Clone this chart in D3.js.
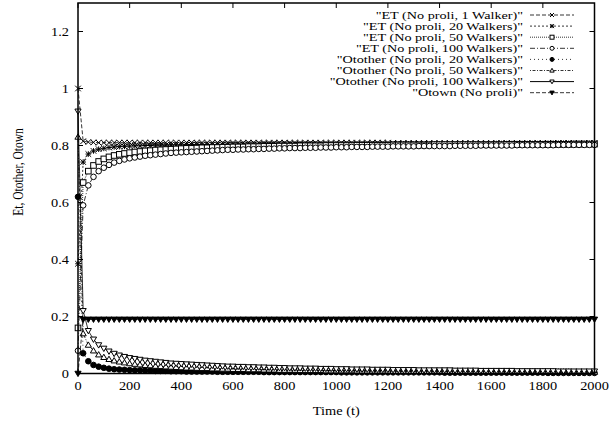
<!DOCTYPE html>
<html>
<head>
<meta charset="utf-8">
<script src="https://cdn.jsdelivr.net/npm/d3@7.9.0/dist/d3.min.js"></script>
<style>
  html, body { margin: 0; padding: 0; background: #fff; }
</style>
</head>
<body>
<div id="chart"></div>
<script>
// sample times (t)
const times = [
  0,
  20, 40, 60, 80, 100, 120, 140, 160, 180, 200,
  220, 240, 260, 280, 300, 320, 340, 360, 380, 400,
  420, 440, 460, 480, 500, 520, 540, 560, 580, 600,
  620, 640, 660, 680, 700, 720, 740, 760, 780, 800,
  820, 840, 860, 880, 900, 920, 940, 960, 980, 1000,
  1020, 1040, 1060, 1080, 1100, 1120, 1140, 1160, 1180, 1200,
  1220, 1240, 1260, 1280, 1300, 1320, 1340, 1360, 1380, 1400,
  1420, 1440, 1460, 1480, 1500, 1520, 1540, 1560, 1580, 1600,
  1620, 1640, 1660, 1680, 1700, 1720, 1740, 1760, 1780, 1800,
  1820, 1840, 1860, 1880, 1900, 1920, 1940, 1960, 1980, 2000
];

const etOne = [
  1.000,
  0.815, 0.812, 0.811, 0.810, 0.810, 0.810, 0.810, 0.810, 0.810, 0.810,
  0.810, 0.810, 0.810, 0.810, 0.810, 0.810, 0.810, 0.810, 0.810, 0.810,
  0.810, 0.810, 0.810, 0.810, 0.810, 0.810, 0.810, 0.810, 0.810, 0.810,
  0.810, 0.810, 0.810, 0.810, 0.810, 0.810, 0.810, 0.810, 0.810, 0.810,
  0.810, 0.810, 0.810, 0.810, 0.810, 0.810, 0.810, 0.810, 0.810, 0.810,
  0.810, 0.810, 0.810, 0.810, 0.810, 0.810, 0.810, 0.810, 0.810, 0.810,
  0.809, 0.809, 0.809, 0.809, 0.809, 0.809, 0.809, 0.809, 0.809, 0.809,
  0.809, 0.809, 0.809, 0.809, 0.809, 0.809, 0.809, 0.809, 0.809, 0.809,
  0.809, 0.809, 0.809, 0.809, 0.809, 0.809, 0.809, 0.809, 0.809, 0.809,
  0.809, 0.809, 0.809, 0.809, 0.809, 0.809, 0.809, 0.809, 0.809, 0.809
];

const etTwenty = [
  0.385,
  0.742, 0.770, 0.781, 0.787, 0.790, 0.793, 0.795, 0.796, 0.797, 0.798,
  0.799, 0.799, 0.800, 0.800, 0.801, 0.801, 0.801, 0.802, 0.802, 0.802,
  0.803, 0.803, 0.803, 0.803, 0.803, 0.803, 0.803, 0.804, 0.804, 0.804,
  0.804, 0.804, 0.804, 0.804, 0.804, 0.805, 0.805, 0.805, 0.805, 0.805,
  0.805, 0.805, 0.805, 0.805, 0.805, 0.805, 0.805, 0.805, 0.805, 0.805,
  0.805, 0.805, 0.805, 0.805, 0.805, 0.805, 0.805, 0.805, 0.805, 0.805,
  0.806, 0.806, 0.806, 0.806, 0.806, 0.806, 0.806, 0.806, 0.806, 0.806,
  0.806, 0.806, 0.806, 0.806, 0.806, 0.806, 0.806, 0.806, 0.806, 0.806,
  0.807, 0.807, 0.807, 0.807, 0.807, 0.807, 0.807, 0.807, 0.807, 0.807,
  0.808, 0.808, 0.808, 0.808, 0.808, 0.808, 0.808, 0.808, 0.808, 0.808
];

const etFifty = [
  0.160,
  0.670, 0.710, 0.730, 0.744, 0.753, 0.760, 0.765, 0.769, 0.772, 0.775,
  0.777, 0.779, 0.781, 0.782, 0.784, 0.785, 0.786, 0.787, 0.788, 0.789,
  0.790, 0.790, 0.791, 0.792, 0.792, 0.793, 0.793, 0.794, 0.794, 0.795,
  0.795, 0.795, 0.796, 0.796, 0.796, 0.797, 0.797, 0.797, 0.798, 0.798,
  0.798, 0.798, 0.799, 0.799, 0.799, 0.799, 0.799, 0.800, 0.800, 0.800,
  0.800, 0.800, 0.800, 0.801, 0.801, 0.801, 0.801, 0.801, 0.801, 0.801,
  0.802, 0.802, 0.802, 0.802, 0.802, 0.802, 0.802, 0.802, 0.803, 0.803,
  0.803, 0.803, 0.803, 0.803, 0.803, 0.803, 0.803, 0.803, 0.803, 0.803,
  0.803, 0.803, 0.804, 0.804, 0.804, 0.804, 0.804, 0.804, 0.804, 0.804,
  0.804, 0.804, 0.804, 0.804, 0.804, 0.805, 0.805, 0.805, 0.805, 0.805
];

const etHundred = [
  0.080,
  0.590, 0.660, 0.690, 0.710, 0.722, 0.732, 0.740, 0.746, 0.751, 0.755,
  0.758, 0.761, 0.764, 0.766, 0.768, 0.770, 0.772, 0.774, 0.775, 0.776,
  0.777, 0.778, 0.779, 0.780, 0.781, 0.782, 0.783, 0.784, 0.785, 0.785,
  0.786, 0.786, 0.787, 0.787, 0.788, 0.788, 0.789, 0.789, 0.790, 0.790,
  0.791, 0.791, 0.791, 0.792, 0.792, 0.792, 0.793, 0.793, 0.793, 0.794,
  0.794, 0.794, 0.795, 0.795, 0.795, 0.795, 0.796, 0.796, 0.796, 0.796,
  0.797, 0.797, 0.797, 0.797, 0.797, 0.798, 0.798, 0.798, 0.798, 0.798,
  0.798, 0.798, 0.799, 0.799, 0.799, 0.799, 0.799, 0.800, 0.800, 0.800,
  0.800, 0.800, 0.800, 0.800, 0.801, 0.801, 0.801, 0.801, 0.801, 0.801,
  0.801, 0.801, 0.802, 0.802, 0.802, 0.802, 0.802, 0.802, 0.802, 0.802
];

const otherTwenty = [
  0.620,
  0.071, 0.043, 0.030, 0.024, 0.020, 0.017, 0.015, 0.014, 0.013, 0.012,
  0.011, 0.011, 0.010, 0.010, 0.009, 0.009, 0.009, 0.008, 0.008, 0.008,
  0.007, 0.007, 0.007, 0.007, 0.007, 0.007, 0.006, 0.006, 0.006, 0.006,
  0.006, 0.006, 0.006, 0.006, 0.006, 0.005, 0.005, 0.005, 0.005, 0.005,
  0.005, 0.005, 0.005, 0.005, 0.005, 0.005, 0.005, 0.005, 0.005, 0.005,
  0.004, 0.004, 0.004, 0.004, 0.004, 0.004, 0.004, 0.004, 0.004, 0.004,
  0.004, 0.004, 0.004, 0.004, 0.004, 0.004, 0.004, 0.004, 0.004, 0.004,
  0.003, 0.003, 0.003, 0.003, 0.003, 0.003, 0.003, 0.003, 0.003, 0.003,
  0.003, 0.003, 0.003, 0.003, 0.003, 0.003, 0.003, 0.003, 0.003, 0.003,
  0.002, 0.002, 0.002, 0.002, 0.002, 0.002, 0.002, 0.002, 0.002, 0.002
];

const otherFifty = [
  0.830,
  0.140, 0.100, 0.080, 0.066, 0.057, 0.050, 0.045, 0.041, 0.038, 0.035,
  0.033, 0.031, 0.029, 0.028, 0.026, 0.025, 0.024, 0.023, 0.022, 0.021,
  0.020, 0.020, 0.019, 0.018, 0.018, 0.017, 0.017, 0.016, 0.016, 0.015,
  0.015, 0.015, 0.014, 0.014, 0.014, 0.013, 0.013, 0.013, 0.012, 0.012,
  0.012, 0.012, 0.011, 0.011, 0.011, 0.011, 0.011, 0.010, 0.010, 0.010,
  0.010, 0.010, 0.010, 0.009, 0.009, 0.009, 0.009, 0.009, 0.009, 0.009,
  0.008, 0.008, 0.008, 0.008, 0.008, 0.008, 0.008, 0.008, 0.007, 0.007,
  0.007, 0.007, 0.007, 0.007, 0.007, 0.007, 0.007, 0.007, 0.007, 0.007,
  0.007, 0.007, 0.006, 0.006, 0.006, 0.006, 0.006, 0.006, 0.006, 0.006,
  0.006, 0.006, 0.006, 0.006, 0.006, 0.005, 0.005, 0.005, 0.005, 0.005
];

const otherHundred = [
  0.920,
  0.220, 0.150, 0.120, 0.100, 0.088, 0.078, 0.070, 0.064, 0.059, 0.055,
  0.052, 0.049, 0.046, 0.044, 0.042, 0.040, 0.038, 0.036, 0.035, 0.034,
  0.033, 0.032, 0.031, 0.030, 0.029, 0.028, 0.027, 0.026, 0.025, 0.025,
  0.024, 0.024, 0.023, 0.023, 0.022, 0.022, 0.021, 0.021, 0.020, 0.020,
  0.019, 0.019, 0.019, 0.018, 0.018, 0.018, 0.017, 0.017, 0.017, 0.016,
  0.016, 0.016, 0.015, 0.015, 0.015, 0.015, 0.014, 0.014, 0.014, 0.014,
  0.013, 0.013, 0.013, 0.013, 0.013, 0.012, 0.012, 0.012, 0.012, 0.012,
  0.012, 0.012, 0.011, 0.011, 0.011, 0.011, 0.011, 0.010, 0.010, 0.010,
  0.010, 0.010, 0.010, 0.010, 0.009, 0.009, 0.009, 0.009, 0.009, 0.009,
  0.009, 0.009, 0.008, 0.008, 0.008, 0.008, 0.008, 0.008, 0.008, 0.008
];

const otown = [
  0.000,
  0.190, 0.190, 0.190, 0.190, 0.190, 0.190, 0.190, 0.190, 0.190, 0.190,
  0.190, 0.190, 0.190, 0.190, 0.190, 0.190, 0.190, 0.190, 0.190, 0.190,
  0.190, 0.190, 0.190, 0.190, 0.190, 0.190, 0.190, 0.190, 0.190, 0.190,
  0.190, 0.190, 0.190, 0.190, 0.190, 0.190, 0.190, 0.190, 0.190, 0.190,
  0.190, 0.190, 0.190, 0.190, 0.190, 0.190, 0.190, 0.190, 0.190, 0.190,
  0.190, 0.190, 0.190, 0.190, 0.190, 0.190, 0.190, 0.190, 0.190, 0.190,
  0.190, 0.190, 0.190, 0.190, 0.190, 0.190, 0.190, 0.190, 0.190, 0.190,
  0.190, 0.190, 0.190, 0.190, 0.190, 0.190, 0.190, 0.190, 0.190, 0.190,
  0.190, 0.190, 0.190, 0.190, 0.190, 0.190, 0.190, 0.190, 0.190, 0.190,
  0.190, 0.190, 0.190, 0.190, 0.190, 0.190, 0.190, 0.190, 0.190, 0.190
];

const seriesNames = [
  '"ET (No proli, 1 Walker)"',
  '"ET (No proli, 20 Walkers)"',
  '"ET (No proli, 50 Walkers)"',
  '"ET (No proli, 100 Walkers)"',
  '"Otother (No proli, 20 Walkers)"',
  '"Otother (No proli, 50 Walkers)"',
  '"Otother (No proli, 100 Walkers)"',
  '"Otown (No proli)"'
];
const seriesValues = [etOne, etTwenty, etFifty, etHundred, otherTwenty, otherFifty, otherHundred, otown];

const xTicks = [0, 200, 400, 600, 800, 1000, 1200, 1400, 1600, 1800, 2000];
const yTicks = [0, 0.2, 0.4, 0.6, 0.8, 1, 1.2];
const xTitle = 'Time (t)';
const yTitle = 'Et, Otother, Otown';

// line / point styles, gnuplot monochrome look
const styles = [
  { dash: '4,2', sym: 'cross' },
  { dash: '2,2', sym: 'star' },
  { dash: '1,1', sym: 'square' },
  { dash: '5,2,1,2', sym: 'circle' },
  { dash: '1,3', sym: 'dot' },
  { dash: '1,1.5,3,1.5', sym: 'triUp' },
  { dash: null, sym: 'triDownOpen' },
  { dash: '4,2', sym: 'triDown' }
];

const width = 610, height = 429;
const plot = { left: 78, right: 594.5, top: 3, bottom: 373.5 };
const SX = 1.25;     // text is stretched horizontally in the original
const fs = 11.5;
const font = '"Liberation Serif", "Times New Roman", Times, serif';

const svg = d3.select('#chart').append('svg')
  .attr('width', width).attr('height', height);

const x = d3.scaleLinear().domain([0, 2000]).range([plot.left, plot.right]);
const y = d3.scaleLinear().domain([0, 1.3]).range([plot.bottom, plot.top]);

function label(g, tx, ty, text, anchor, rotate, size = fs, sx = SX) {
  g.append('text')
    .attr('transform', `translate(${tx},${ty}) scale(${sx},1)` + (rotate ? ' rotate(-90)' : ''))
    .attr('text-anchor', anchor)
    .attr('dy', '0.35em')
    .attr('font-family', font)
    .attr('font-size', size)
    .attr('fill', '#000')
    .text(text);
}

// marker path drawing
function marker(g, cx, cy, sym, r) {
  const p = d3.path();
  if (sym === 'cross' || sym === 'star') {
    p.moveTo(cx - r, cy - r); p.lineTo(cx + r, cy + r);
    p.moveTo(cx - r, cy + r); p.lineTo(cx + r, cy - r);
    if (sym === 'star') {
      p.moveTo(cx - r, cy); p.lineTo(cx + r, cy);
      p.moveTo(cx, cy - r); p.lineTo(cx, cy + r);
    }
    g.append('path').attr('d', p.toString()).attr('stroke', '#000').attr('stroke-width', 1).attr('fill', 'none');
  } else if (sym === 'square') {
    g.append('rect').attr('x', cx - r).attr('y', cy - r).attr('width', 2 * r).attr('height', 2 * r)
      .attr('stroke', '#000').attr('stroke-width', 1).attr('fill', '#fff');
  } else if (sym === 'circle' || sym === 'dot') {
    g.append('circle').attr('cx', cx).attr('cy', cy).attr('r', r)
      .attr('stroke', '#000').attr('stroke-width', 1).attr('fill', sym === 'dot' ? '#000' : '#fff');
  } else {
    const up = sym === 'triUp' ? -1 : 1;
    p.moveTo(cx, cy + up * r * 1.1);
    p.lineTo(cx - r * 1.1, cy - up * r * 0.8);
    p.lineTo(cx + r * 1.1, cy - up * r * 0.8);
    p.closePath();
    g.append('path').attr('d', p.toString()).attr('stroke', '#000').attr('stroke-width', 1)
      .attr('fill', sym === 'triDown' ? '#000' : '#fff');
  }
}

// frame ticks (inward, mirrored)
const axes = svg.append('g');
const tl = 5;
xTicks.forEach(t => {
  axes.append('line').attr('x1', x(t)).attr('x2', x(t)).attr('y1', plot.bottom).attr('y2', plot.bottom - tl)
    .attr('stroke', '#000').attr('stroke-width', 1);
  axes.append('line').attr('x1', x(t)).attr('x2', x(t)).attr('y1', plot.top).attr('y2', plot.top + tl)
    .attr('stroke', '#000').attr('stroke-width', 1);
  label(axes, x(t), 386, String(t), 'middle');
});
yTicks.forEach(t => {
  axes.append('line').attr('x1', plot.left).attr('x2', plot.left + tl).attr('y1', y(t)).attr('y2', y(t))
    .attr('stroke', '#000').attr('stroke-width', 1);
  axes.append('line').attr('x1', plot.right).attr('x2', plot.right - tl).attr('y1', y(t)).attr('y2', y(t))
    .attr('stroke', '#000').attr('stroke-width', 1);
  label(axes, 69, y(t), String(t), 'end');
});
label(axes, (plot.left + plot.right) / 2, 411, xTitle, 'middle');
label(axes, 18, 172, yTitle, 'middle', true);

// data
const line = d3.line().x((d, i) => x(times[i])).y(d => y(d));
const marks = svg.append('g');
seriesValues.forEach((vals, k) => {
  const st = styles[k];
  const g = marks.append('g');
  g.append('path').attr('d', line(vals)).attr('fill', 'none').attr('stroke', '#000')
    .attr('stroke-width', 0.8).attr('stroke-dasharray', st.dash);
  vals.forEach((v, i) => marker(g, x(times[i]), y(v), st.sym, 2.8));
});

// legend (rows are packed tight, so a slightly smaller, wider font)
const legend = svg.append('g');
seriesNames.forEach((name, k) => {
  const ly = 15 + k * 11.1;
  const st = styles[k];
  label(legend, 523, ly, name, 'end', false, 10, 1.42);
  legend.append('line').attr('x1', 530).attr('x2', 574).attr('y1', ly).attr('y2', ly)
    .attr('stroke', '#000').attr('stroke-width', k === 6 ? 1 : 0.8).attr('stroke-dasharray', st.dash);
  marker(legend, 552, ly, st.sym, 2);
});

// border
svg.append('rect').attr('x', plot.left).attr('y', plot.top)
  .attr('width', plot.right - plot.left).attr('height', plot.bottom - plot.top)
  .attr('fill', 'none').attr('stroke', '#000').attr('stroke-width', 1.5);
</script>
</body>
</html>
